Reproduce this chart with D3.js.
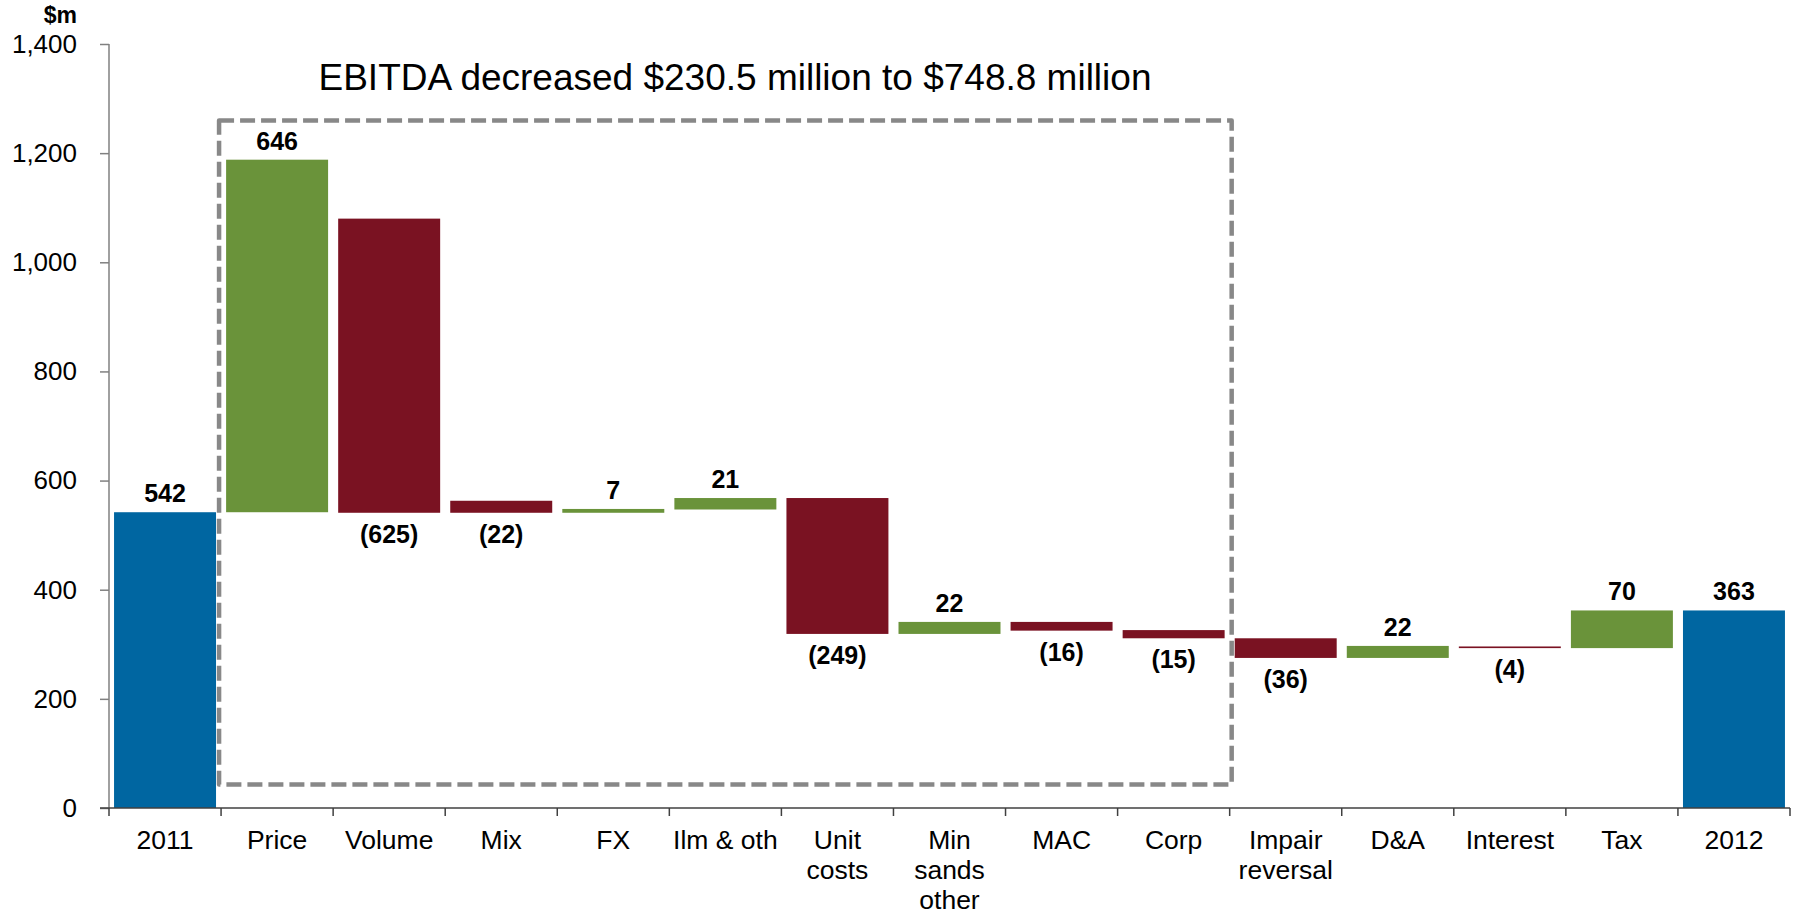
<!DOCTYPE html>
<html>
<head>
<meta charset="utf-8">
<script src="https://cdn.jsdelivr.net/npm/d3@7"></script>
<style>
  html, body { margin: 0; padding: 0; background: #fff; }
  svg { display: block; font-family: "Liberation Sans", Arial, sans-serif; }
</style>
</head>
<body>
<svg id="chart" width="1799" height="917"></svg>
<script>
// Categories along the x axis ("\n" = line break)
const categories = ["2011", "Price", "Volume", "Mix", "FX", "Ilm & oth", "Unit\ncosts",
    "Min\nsands\nother", "MAC", "Corp", "Impair\nreversal", "D&A", "Interest", "Tax", "2012"];

// Labelled values ($m); first and last are totals
const values = [542, 646, -625, -22, 7, 21, -249, 22, -16, -15, -36, 22, -4, 70, 363];

// Floating bar extents as drawn in the picture ($m)
const barFrom = [0, 542, 1080, 563, 541, 547, 568, 319, 341, 326, 311, 297, 296, 293, 0];
const barTo   = [542, 1188, 541, 541, 548, 568, 319, 341, 325, 311, 275, 275, 293, 362, 362];

const yTicks = [0, 200, 400, 600, 800, 1000, 1200, 1400];

const title = "EBITDA decreased $230.5 million to $748.8 million";

const colors = { total: "#0066a1", up: "#6a933a", down: "#7a1222" };

const svg = d3.select("#chart");

const x = d3.scaleBand()
    .domain(d3.range(categories.length))
    .range([109, 1790])
    .paddingInner(0.09)
    .paddingOuter(0.045);

const y = d3.scaleLinear().domain([0, 1400]).range([808, 44]);

const kindOf = i => (i === 0 || i === categories.length - 1) ? "total" : (values[i] >= 0 ? "up" : "down");
const fmt = v => v < 0 ? `(${Math.abs(v)})` : `${v}`;

// --- Y axis ---
const yAxis = svg.append("g")
    .attr("transform", "translate(109,0)")
    .call(d3.axisLeft(y).tickValues(yTicks).tickFormat(d3.format(",")).tickSize(9).tickPadding(23));
yAxis.select(".domain").remove();
yAxis.selectAll(".tick line").attr("stroke", "#808080").attr("stroke-width", 1.5);
yAxis.selectAll(".tick text")
    .attr("font-size", 26)
    .attr("font-family", "Liberation Sans, Arial, sans-serif")
    .attr("fill", "#000");

svg.append("line")
    .attr("x1", 109).attr("x2", 109)
    .attr("y1", y(1400)).attr("y2", y(0))
    .attr("stroke", "#808080").attr("stroke-width", 1.5);

svg.append("text")
    .attr("x", 77).attr("y", 23)
    .attr("text-anchor", "end")
    .attr("font-size", 23).attr("font-weight", "bold")
    .text("$m");

// --- Bars ---
svg.append("g").selectAll("rect")
    .data(categories)
    .join("rect")
    .attr("x", (d, i) => x(i))
    .attr("width", x.bandwidth())
    .attr("y", (d, i) => y(Math.max(barFrom[i], barTo[i])))
    .attr("height", (d, i) => Math.max(1.5, Math.abs(y(barFrom[i]) - y(barTo[i]))))
    .attr("fill", (d, i) => colors[kindOf(i)]);

// --- X axis ---
const step = x.step();
const x0 = x.range()[0];
svg.append("line")
    .attr("x1", 100).attr("x2", x.range()[1])
    .attr("y1", y(0)).attr("y2", y(0))
    .attr("stroke", "#404040").attr("stroke-width", 1.5);

svg.append("g").selectAll("line")
    .data(d3.range(categories.length + 1))
    .join("line")
    .attr("x1", i => x0 + i * step).attr("x2", i => x0 + i * step)
    .attr("y1", y(0)).attr("y2", y(0) + 8)
    .attr("stroke", "#404040").attr("stroke-width", 1.5);

const xLabels = svg.append("g").selectAll("text")
    .data(categories)
    .join("text")
    .attr("text-anchor", "middle")
    .attr("font-size", 26.5)
    .attr("fill", "#000")
    .attr("transform", (d, i) => `translate(${x(i) + x.bandwidth() / 2},849)`);
xLabels.selectAll("tspan")
    .data(d => d.split("\n"))
    .join("tspan")
    .attr("x", 0)
    .attr("y", (d, j) => j * 30)
    .text(d => d);

// --- Value labels ---
svg.append("g").selectAll("text")
    .data(values)
    .join("text")
    .attr("text-anchor", "middle")
    .attr("font-weight", "bold")
    .attr("font-size", 25)
    .attr("x", (d, i) => x(i) + x.bandwidth() / 2)
    .attr("y", (d, i) => d < 0
        ? y(Math.min(barFrom[i], barTo[i])) + 30
        : y(Math.max(barFrom[i], barTo[i])) - 10)
    .text(fmt);

// --- Highlight box round Price..Corp ---
const boxLeft = x0 + 1 * step - 2;
const boxRight = x0 + 10 * step + 2;
svg.append("rect")
    .attr("x", boxLeft).attr("y", y(1260))
    .attr("width", boxRight - boxLeft)
    .attr("height", y(43) - y(1260))
    .attr("fill", "none")
    .attr("stroke", "#888888")
    .attr("stroke-width", 4.5)
    .attr("stroke-dasharray", "15 6")
    .attr("stroke-linejoin", "round");

// --- Title ---
svg.append("text")
    .attr("x", 735).attr("y", 90)
    .attr("text-anchor", "middle")
    .attr("font-size", 37)
    .attr("fill", "#000")
    .text(title);
</script>
</body>
</html>
